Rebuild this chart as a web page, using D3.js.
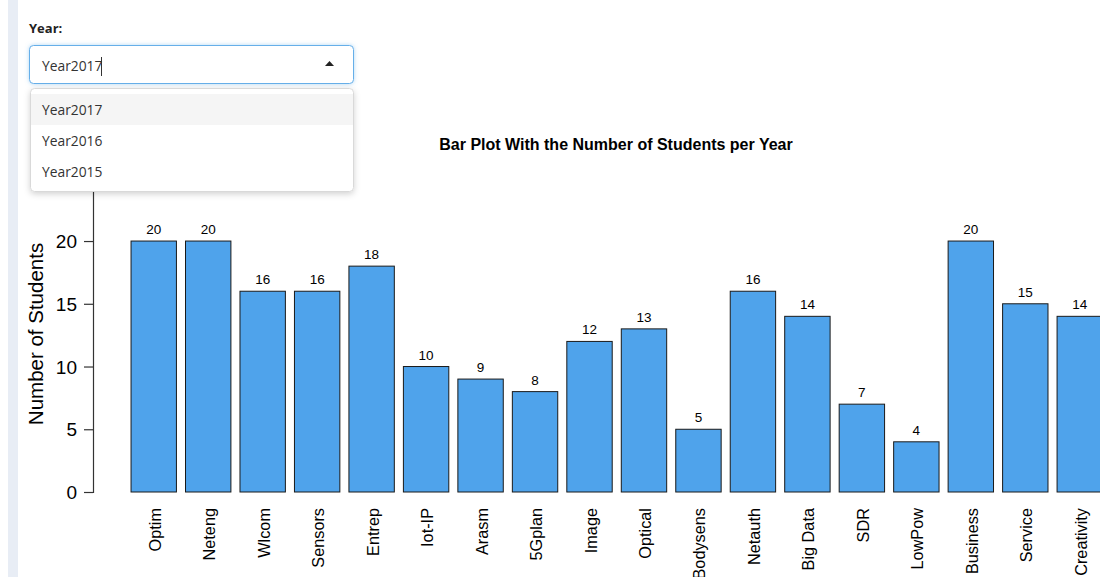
<!DOCTYPE html>
<html>
<head>
<meta charset="utf-8">
<script src="https://cdn.jsdelivr.net/npm/d3@7"></script>
<style>
  html, body { margin: 0; padding: 0; background: #fff; }
  svg { display: block; }
</style>
</head>
<body>
<svg id="chart" width="1100" height="577"></svg>
<script>
const categories = ["Optim","Neteng","Wlcom","Sensors","Entrep","Iot-IP","Arasm","5Gplan","Image","Optical","Bodysens","Netauth","Big Data","SDR","LowPow","Business","Service","Creativity"];
const students2017 = [20,20,16,16,18,10,9,8,12,13,5,16,14,7,4,20,15,14];
const yTicks = [0,5,10,15,20];
const yearOptions = ["Year2017","Year2016","Year2015"];
const selectedYear = "Year2017";
const chartTitle = "Bar Plot With the Number of Students per Year";
const yLabel = "Number of Students";

const svg = d3.select("#chart");
const W = 1100, H = 577;

// left sidebar strip
svg.append("rect").attr("x", 8).attr("y", 0).attr("width", 10).attr("height", H).attr("fill", "#e8edf5");

// scales
const x = d3.scaleBand().domain(categories).range([126.5, 1107.0]).paddingInner(1/6).paddingOuter(1/12);
const y = d3.scaleLinear().domain([0, 25]).range([492, 178.3]);

const sans = "'Liberation Sans', Arial, sans-serif";

// title
svg.append("text").attr("x", 616).attr("y", 150).attr("text-anchor", "middle")
  .attr("font-family", sans).attr("font-weight", "bold").attr("font-size", 16).attr("fill", "#000")
  .text(chartTitle);

// y axis
const yAxis = d3.axisLeft(y).tickValues(yTicks).tickSize(9).tickPadding(7).tickFormat(d3.format("d"));
const gy = svg.append("g").attr("transform", "translate(93,0)").call(yAxis);
gy.select(".domain").attr("stroke", "#333").attr("stroke-width", 1.2);
gy.selectAll(".tick line").attr("stroke", "#333").attr("stroke-width", 1.2);
gy.selectAll(".tick text").attr("font-family", sans).attr("font-size", 19).attr("fill", "#000").attr("dy", "0.35em");

svg.append("text").attr("transform", "translate(43,334) rotate(-90)").attr("text-anchor", "middle")
  .attr("font-family", sans).attr("font-size", 20.5).attr("fill", "#000").text(yLabel);

// bars
svg.append("g").selectAll("rect").data(categories).join("rect")
  .attr("x", d => x(d)).attr("width", x.bandwidth())
  .attr("y", (d, i) => y(students2017[i])).attr("height", (d, i) => y(0) - y(students2017[i]))
  .attr("fill", "#4fa3eb").attr("stroke", "#1a1a1a").attr("stroke-width", 1);

// value labels
svg.append("g").selectAll("text").data(categories).join("text")
  .attr("x", d => x(d) + x.bandwidth() / 2).attr("y", (d, i) => y(students2017[i]) - 7)
  .attr("text-anchor", "middle").attr("font-family", sans).attr("font-size", 13.5).attr("fill", "#000")
  .text((d, i) => students2017[i]);

// category labels (rotated)
svg.append("g").selectAll("text").data(categories).join("text")
  .attr("transform", d => `translate(${x(d) + x.bandwidth() / 2 + 7},508) rotate(-90)`)
  .attr("text-anchor", "end").attr("font-family", sans).attr("font-size", 16.3).attr("fill", "#000")
  .text(d => d);

// ---- select input widget ----
const uiFont = "'Open Sans', 'Noto Sans', sans-serif";
svg.append("text").attr("x", 29).attr("y", 33).attr("font-family", uiFont).attr("font-weight", "bold")
  .attr("font-size", 13).attr("fill", "#222").text("Year:");

const defs = svg.append("defs");
const glow = defs.append("filter").attr("id", "glow").attr("x", "-10%").attr("y", "-30%").attr("width", "120%").attr("height", "160%");
glow.append("feDropShadow").attr("dx", 0).attr("dy", 0).attr("stdDeviation", 2).attr("flood-color", "#66afe9").attr("flood-opacity", 0.5);
const shadow = defs.append("filter").attr("id", "shadow").attr("x", "-10%").attr("y", "-10%").attr("width", "120%").attr("height", "130%");
shadow.append("feDropShadow").attr("dx", 0).attr("dy", 2).attr("stdDeviation", 3).attr("flood-color", "#000").attr("flood-opacity", 0.18);

svg.append("rect").attr("x", 29.5).attr("y", 45.5).attr("width", 324).attr("height", 38).attr("rx", 4)
  .attr("fill", "#fff").attr("stroke", "#66afe9").attr("stroke-width", 1).attr("filter", "url(#glow)");
svg.append("text").attr("x", 42).attr("y", 71).attr("font-family", uiFont).attr("font-size", 13.8).attr("fill", "#333").text(selectedYear);
svg.append("line").attr("x1", 101.5).attr("x2", 101.5).attr("y1", 57).attr("y2", 76).attr("stroke", "#333").attr("stroke-width", 1);
svg.append("path").attr("d", "M325,66 L334,66 L329.5,61 Z").attr("fill", "#222");

// dropdown
const dd = svg.append("g");
dd.append("rect").attr("x", 30.5).attr("y", 88.5).attr("width", 323).attr("height", 103).attr("rx", 4)
  .attr("fill", "#fff").attr("stroke", "#d9d9d9").attr("stroke-width", 1).attr("filter", "url(#shadow)");
dd.append("rect").attr("x", 31).attr("y", 94).attr("width", 322).attr("height", 31).attr("fill", "#f5f5f5");
dd.selectAll("text.opt").data(yearOptions).join("text").attr("class", "opt")
  .attr("x", 42).attr("y", (d, i) => 115 + i * 31)
  .attr("font-family", uiFont).attr("font-size", 13.8).attr("fill", "#333").text(d => d);
</script>
</body>
</html>
